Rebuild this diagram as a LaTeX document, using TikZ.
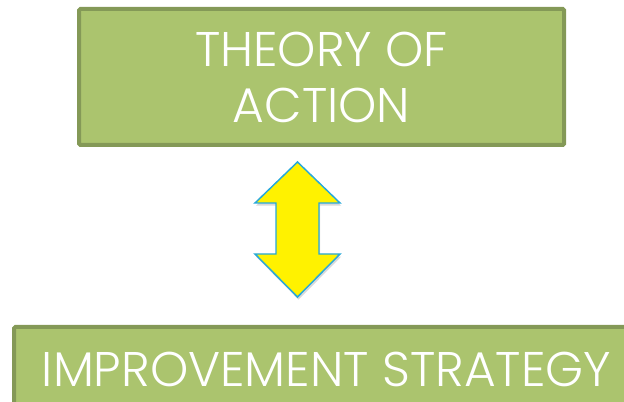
\documentclass[tikz,border=0pt]{standalone}
\usepackage{fontspec}
\setmainfont{Poppins}[UprightFont=* Light]
\usepackage{xcolor}
\usepackage{tikz}
\usetikzlibrary{shadows}

\definecolor{boxfill}{RGB}{171,196,110}
\definecolor{boxline}{RGB}{132,153,87}
\definecolor{arrowline}{RGB}{38,168,218}

\begin{document}
\begin{tikzpicture}[x=0.75pt,y=0.75pt,yscale=-1,xscale=1,
  greenbox/.style={draw=boxline, fill=boxfill, line width=3pt, rounded corners=1pt,
    text=white, align=center, inner sep=0pt, font=\fontsize{36.5}{42}\selectfont}]
%set diagram to 624 x 402
\useasboundingbox (0,0) rectangle (624,402);
\clip (0,0) rectangle (624,402);

%Shape: Rectangle [id:theory]
\node (theory) [greenbox, minimum width=363.75pt, minimum height=102pt] at (321.5,77) {THEORY OF\\ACTION};
%Shape: Rectangle [id:strategy]
\node (strategy) [greenbox, minimum width=468.75pt, minimum height=63pt] at (326.5,369) {IMPROVEMENT STRATEGY};

%Shape: Up Down Arrow [id:link]
\draw [draw=arrowline, fill=yellow, line width=1.1pt, line join=miter,
  drop shadow={shadow xshift=0.8pt, shadow yshift=-2pt, opacity=0.15, fill=black}]
  (297.5,162) -- (340,203) -- (319,203) -- (319,254) -- (340,254) -- (297.5,297)
  -- (255,254) -- (276,254) -- (276,203) -- (255,203) -- cycle ;

\end{tikzpicture}
\end{document}
